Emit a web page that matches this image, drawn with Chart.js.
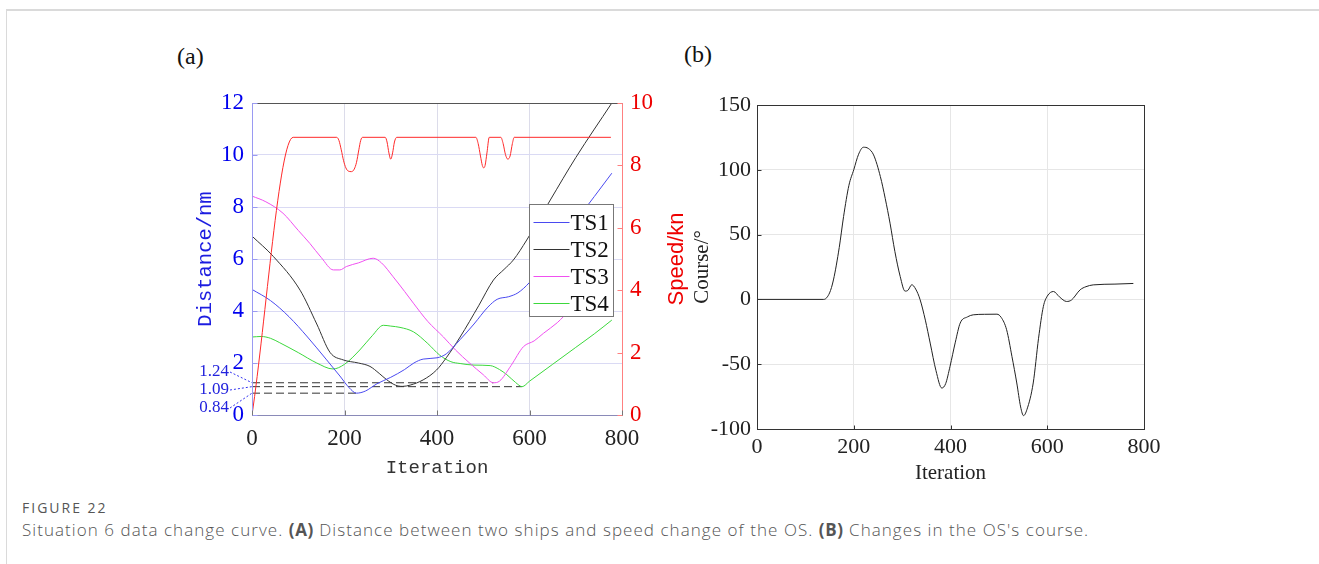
<!DOCTYPE html>
<html><head><meta charset="utf-8">
<script src="https://cdn.jsdelivr.net/npm/chart.js@4.4.1/dist/chart.umd.min.js"></script>
<style>
html,body{margin:0;padding:0;background:#fff;width:1319px;height:564px;overflow:hidden;position:relative;font-family:'Open Sans',sans-serif}
#frameTop{position:absolute;left:6px;top:9px;width:1313px;height:2px;background:#dadada}
#frameLeft{position:absolute;left:6px;top:9px;width:1px;height:555px;background:#dadada}
#c1{position:absolute;left:150px;top:60px}
#c2{position:absolute;left:680px;top:60px}
.panel{position:absolute;font-family:'Liberation Serif',serif;font-size:24px;line-height:24px;color:#111}
#fig{position:absolute;left:22px;top:500px;font-size:14px;line-height:16px;font-weight:400;letter-spacing:2px;color:#555}
#cap{position:absolute;left:22px;top:519px;font-size:17px;line-height:22px;font-weight:300;letter-spacing:1.05px;color:#555;white-space:nowrap}
#cap b{font-weight:700;letter-spacing:0.6px}
</style>
</head><body>
<div id="frameTop"></div><div id="frameLeft"></div>
<div class="panel" style="left:177px;top:44px">(a)</div>
<div class="panel" style="left:684px;top:42px">(b)</div>
<canvas id="c1" width="540" height="430"></canvas>
<canvas id="c2" width="500" height="440"></canvas>
<div id="fig">FIGURE 22</div>
<div id="cap">Situation 6 data change curve. <b>(A)</b> Distance between two ships and speed change of the OS. <b>(B)</b> Changes in the OS's course.</div>
<script>
// ---------- data (a) ----------
const seriesNames = ['TS1','TS2','TS3','TS4'];
const ts1Iter = [0,40,80,120,160,190,210,226,245,270,300,330,350,370,400,420,450,480,510,530,555,575,600,650,700,740,778];
const ts1Dist = [4.83,4.4,3.78,3.0,2.15,1.5,1.05,0.84,0.92,1.2,1.45,1.75,2.0,2.15,2.2,2.35,2.9,3.5,4.15,4.45,4.55,4.7,5.1,6.28,7.46,8.4,9.3];
const ts2Iter = [0,46,104,140,169,197,230,255,275,291,310,325,342,370,399,420,450,490,522,545,565,594,645,700,778];
const ts2Dist = [6.88,6.1,4.8,3.5,2.4,2.12,2.0,1.87,1.6,1.36,1.15,1.1,1.15,1.35,1.73,2.2,3.0,4.2,5.19,5.6,5.96,6.73,8.27,9.9,12.0];
const ts3Iter = [0,30,67,100,125,150,176,190,204,230,262,280,305,330,349,380,414,440,471,500,522,535,560,587,610,630,660,688,730,778];
const ts3Dist = [8.42,8.2,7.76,7.1,6.6,6.05,5.58,5.58,5.71,5.85,6.03,5.85,5.32,4.75,4.3,3.6,3.0,2.5,1.99,1.55,1.24,1.3,1.9,2.63,2.85,3.14,3.55,4.04,4.6,5.2];
const ts4Iter = [0,20,40,60,100,140,175,200,233,260,284,300,320,349,380,406,430,450,480,515,535,551,570,584,600,650,700,740,778];
const ts4Dist = [3.0,3.02,2.95,2.78,2.4,2.0,1.77,1.95,2.5,3.05,3.45,3.42,3.37,3.2,2.75,2.3,2.05,1.98,1.92,1.9,1.75,1.55,1.25,1.09,1.3,1.95,2.6,3.12,3.65];
const speedIter = [0,89,183,188,193,198,203,208,215,221,226,231,235,239,288,292,296,300,304,308,313,484,489,494,498,501,504,508,513,538,543,548,553,558,563,567,776];
const speedKn = [0,8.9,8.9,8.8,8.5,8.15,7.92,7.82,7.8,7.88,8.1,8.5,8.8,8.9,8.9,8.75,8.4,8.2,8.4,8.75,8.9,8.9,8.7,8.3,8.0,7.92,8.0,8.4,8.9,8.9,8.7,8.35,8.2,8.3,8.7,8.9,8.9];
// minimum-distance reference lines: value and iteration where they end
const refValues = [1.24, 1.09, 0.84];
const refEndIter = [522, 584, 226];
const refLabels = ['1.24','1.09','0.84'];
const distTicks = [0,2,4,6,8,10,12];
const speedTicks = [0,2,4,6,8,10];
const iterTicks = [0,200,400,600,800];
// ---------- data (b) ----------
const courseIter = [0,138,150,158,170,179,190,200,210,220,230,241,255,265,275,285,296,306,312,320,328,337,348,358,370,382,390,399,410,420,435,447,470,496,505,516,527,537,545,551,558,571,582,592,600,613,625,640,650,668,680,695,740,778];
const courseDeg = [0,0,5,15,40,64,88,100,112,117.4,116.5,111.5,94.8,78,58.8,37,17.7,6.4,7,11.3,8,0,-16,-33.7,-55,-68.4,-65,-51.7,-33,-18.3,-13.5,-11.9,-11.5,-11.4,-14,-23.4,-44,-64.5,-83,-89.7,-85,-64.5,-30,-5.4,2.5,6.1,2,-1.6,-0.5,7.4,9.8,11.2,11.8,12.3];
const courseTicks = [-100,-50,0,50,100,150];

const serif = "'Liberation Serif','Times New Roman',serif";
const mono = "'Liberation Mono','Courier New',monospace";
const sans = "'Liberation Sans',Arial,sans-serif";
const pts = (xs, ys) => xs.map((x,i)=>({x, y:ys[i]}));
const lineColors = ['#4a4af0','#333333','#f050f0','#3cd83c'];

const tsSets = [[ts1Iter,ts1Dist],[ts2Iter,ts2Dist],[ts3Iter,ts3Dist],[ts4Iter,ts4Dist]].map((d,i)=>({
  label: seriesNames[i], data: pts(d[0],d[1]), borderColor: lineColors[i], borderWidth:1,
  pointRadius:0, cubicInterpolationMode:'monotone', yAxisID:'y', order:2
}));
const refSets = refValues.map((v,i)=>({
  label:'ref'+i, data:[{x:0,y:v},{x:refEndIter[i],y:v}], borderColor:'#333', borderWidth:1,
  borderDash:[8,4], pointRadius:0, yAxisID:'y', order:3
}));
const speedSet = {label:'Speed', data: pts(speedIter,speedKn), borderColor:'#ff2a2a', borderWidth:1,
  pointRadius:0, cubicInterpolationMode:'monotone', yAxisID:'y1', order:1};

const leftPlugin = {
  id:'leftDeco',
  afterDraw(chart){
    const ctx = chart.ctx, ca = chart.chartArea;
    const ys = chart.scales.y, y1 = chart.scales.y1, xs = chart.scales.x;
    ctx.save();
    ctx.lineWidth = 1;
    const L = Math.round(ca.left)+0.5, R = Math.round(ca.right)+0.5, T = Math.round(ca.top)+0.5, B = Math.round(ca.bottom)+0.5;
    ctx.strokeStyle = '#555'; ctx.beginPath(); ctx.moveTo(L,T); ctx.lineTo(R,T); ctx.stroke();
    ctx.strokeStyle = '#8a8ab8'; ctx.beginPath(); ctx.moveTo(L,B); ctx.lineTo(R,B); ctx.stroke();
    ctx.strokeStyle = '#9a9af2'; ctx.beginPath(); ctx.moveTo(L,T); ctx.lineTo(L,B); ctx.stroke();
    ctx.strokeStyle = '#ff8080'; ctx.beginPath(); ctx.moveTo(R,T); ctx.lineTo(R,B); ctx.stroke();
    ctx.strokeStyle = '#9a9af2';
    distTicks.forEach(v=>{const y=Math.round(ys.getPixelForValue(v))+0.5; ctx.beginPath(); ctx.moveTo(L,y); ctx.lineTo(L+5,y); ctx.stroke();});
    ctx.strokeStyle = '#ff8080';
    speedTicks.forEach(v=>{const y=Math.round(y1.getPixelForValue(v))+0.5; ctx.beginPath(); ctx.moveTo(R-5,y); ctx.lineTo(R,y); ctx.stroke();});
    ctx.strokeStyle = '#777';
    iterTicks.forEach(v=>{const x=Math.round(xs.getPixelForValue(v))+0.5; ctx.beginPath(); ctx.moveTo(x,B); ctx.lineTo(x,B-5); ctx.stroke();});
    // legend
    const lx = Math.round(ca.right) - 93 + 0.5, ly = Math.round(ca.top) + 101 + 0.5, lw = 84, lh = 112;
    ctx.fillStyle = '#fff'; ctx.fillRect(lx, ly, lw, lh);
    ctx.strokeStyle = '#777'; ctx.strokeRect(lx, ly, lw, lh);
    ctx.font = '23px ' + serif; ctx.textBaseline = 'middle'; ctx.textAlign = 'left';
    chart.data.datasets.filter(d=>seriesNames.includes(d.label)).forEach((d,i)=>{
      const y = ly + 18 + i*27;
      ctx.strokeStyle = d.borderColor; ctx.beginPath(); ctx.moveTo(lx+4,y); ctx.lineTo(lx+40,y); ctx.stroke();
      ctx.fillStyle = '#111'; ctx.fillText(d.label, lx+41, y+1);
    });
    // min distance labels
    ctx.font = '17px ' + serif; ctx.textAlign = 'right'; ctx.fillStyle = '#2222dd';
    const offs = [-43,-25,-7];
    refValues.forEach((v,i)=>{
      const ty = ca.bottom + offs[i];
      ctx.fillText(refLabels[i], ca.left - 23, ty);
      ctx.strokeStyle = '#3333ee'; ctx.setLineDash([2,2]);
      ctx.beginPath(); ctx.moveTo(ca.left-22, ty); ctx.lineTo(ca.left, ys.getPixelForValue(v)); ctx.stroke();
      ctx.setLineDash([]);
    });
    // right axis title
    ctx.translate(ca.right + 55, (ca.top+ca.bottom)/2);
    ctx.rotate(-Math.PI/2);
    ctx.textAlign = 'center'; ctx.textBaseline = 'middle';
    ctx.font = '22px ' + sans; ctx.fillStyle = '#ee0000';
    ctx.fillText('Speed/kn', 0, 0);
    ctx.restore();
  }
};

new Chart(document.getElementById('c1'), {
  type:'line',
  data:{datasets:[...tsSets, ...refSets, speedSet]},
  options:{
    responsive:false, animation:false,
    layout:{padding:{top:43,left:0,right:0,bottom:0}},
    plugins:{legend:{display:false}, tooltip:{enabled:false}},
    scales:{
      x:{type:'linear', min:0, max:800, afterBuildTicks(s){s.ticks=iterTicks.map(v=>({value:v}));},
        ticks:{color:'#222', font:{family:serif,size:23}, padding:10, maxRotation:0},
        grid:{color:'#dcdcea', drawTicks:false}, border:{display:false},
        title:{display:true, text:'Iteration', color:'#333', font:{family:mono,size:19}, padding:{top:0,bottom:11}},
        afterFit(s){s.height=75;}},
      y:{type:'linear', position:'left', min:0, max:12, afterBuildTicks(s){s.ticks=distTicks.map(v=>({value:v}));},
        ticks:{color:'#0000ee', font:{family:serif,size:23}, padding:8},
        grid:{color:'#dadaf4', drawTicks:false}, border:{display:false},
        title:{display:true, text:'Distance/nm', color:'#1c1ce0', font:{family:mono,size:20.5}, padding:{top:43,bottom:0}},
        afterFit(s){s.width=102;}},
      y1:{type:'linear', position:'right', min:0, max:10, afterBuildTicks(s){s.ticks=speedTicks.map(v=>({value:v}));},
        ticks:{color:'#ee0000', font:{family:serif,size:23}, padding:8},
        grid:{drawOnChartArea:false, drawTicks:false}, border:{display:false},
        afterFit(s){s.width=68;}}
    }
  },
  plugins:[leftPlugin]
});

const rightPlugin = {
  id:'rightDeco',
  afterDraw(chart){
    const ctx = chart.ctx, ca = chart.chartArea, xs = chart.scales.x, ys = chart.scales.y;
    ctx.save(); ctx.lineWidth = 1; ctx.strokeStyle = '#333';
    const L = Math.round(ca.left)+0.5, R = Math.round(ca.right)+0.5, T = Math.round(ca.top)+0.5, B = Math.round(ca.bottom)+0.5;
    ctx.strokeRect(L, T, R-L, B-T);
    courseTicks.forEach(v=>{const y=Math.round(ys.getPixelForValue(v))+0.5; ctx.beginPath(); ctx.moveTo(L,y); ctx.lineTo(L+4,y); ctx.stroke();});
    iterTicks.forEach(v=>{const x=Math.round(xs.getPixelForValue(v))+0.5; ctx.beginPath(); ctx.moveTo(x,B); ctx.lineTo(x,B-4); ctx.stroke();});
    ctx.restore();
  }
};

new Chart(document.getElementById('c2'), {
  type:'line',
  data:{datasets:[{label:'Course', data: pts(courseIter, courseDeg), borderColor:'#222', borderWidth:1,
    pointRadius:0, cubicInterpolationMode:'monotone'}]},
  options:{
    responsive:false, animation:false,
    layout:{padding:{top:45,left:0,right:36,bottom:0}},
    plugins:{legend:{display:false}, tooltip:{enabled:false}},
    scales:{
      x:{type:'linear', min:0, max:800, afterBuildTicks(s){s.ticks=iterTicks.map(v=>({value:v}));},
        ticks:{color:'#222', font:{family:serif,size:22}, padding:5, maxRotation:0},
        grid:{color:'#e6e6e6', drawTicks:false}, border:{display:false},
        title:{display:true, text:'Iteration', color:'#222', font:{family:serif,size:21}, padding:{top:0,bottom:14}},
        afterFit(s){s.height=71;}},
      y:{type:'linear', min:-100, max:150, afterBuildTicks(s){s.ticks=courseTicks.map(v=>({value:v}));},
        ticks:{color:'#222', font:{family:serif,size:22}, padding:6},
        grid:{color:'#e6e6e6', drawTicks:false}, border:{display:false},
        title:{display:true, text:'Course/°', color:'#222', font:{family:serif,size:21}, padding:{top:10,bottom:0}},
        afterFit(s){s.width=77;}}
    }
  },
  plugins:[rightPlugin]
});
</script>
</body></html>
